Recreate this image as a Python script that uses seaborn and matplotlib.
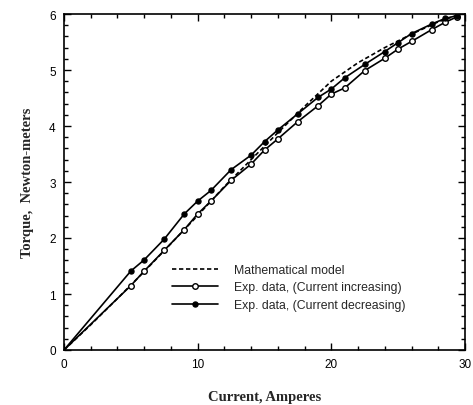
import matplotlib
matplotlib.use("Agg")
import matplotlib.pyplot as plt
from matplotlib.ticker import MultipleLocator
import seaborn as sns
import pandas as pd

# ---- data ----
model_current = [0, 2, 4, 6, 8, 10, 12, 14, 16, 18, 20, 22, 24, 26, 28, 29.7]
model_torque = [0, 0.45, 0.92, 1.40, 1.90, 2.40, 2.92, 3.40, 3.88, 4.35, 4.80, 5.13, 5.40, 5.64, 5.86, 6.0]

exp_current = [0, 5, 6, 7.5, 9, 10, 11, 12.5, 14, 15, 16, 17.5, 19, 20, 21, 22.5, 24, 25, 26, 27.5, 28.5, 29.4]
torque_increasing = [0, 1.15, 1.41, 1.78, 2.15, 2.43, 2.66, 3.03, 3.32, 3.57, 3.77, 4.08, 4.36, 4.57, 4.68,
                     4.99, 5.21, 5.375, 5.51, 5.72, 5.85, 5.95]
torque_decreasing = [0, 1.41, 1.61, 1.98, 2.43, 2.66, 2.85, 3.22, 3.48, 3.72, 3.93, 4.22, 4.51, 4.66, 4.86,
                     5.10, 5.33, 5.49, 5.65, 5.82, 5.92, 5.97]

labels = ["Mathematical model", "Exp. data, (Current increasing)", "Exp. data, (Current decreasing)"]
x_label = "Current, Amperes"
y_label = "Torque,  Newton-meters"

sns.set_style("ticks")
plt.rcParams["font.family"] = ["Liberation Sans", "DejaVu Sans"]

fig = plt.figure(figsize=(4.73, 4.06), dpi=100)
ax = fig.add_axes([64 / 473, 55 / 406, 401 / 473, 336 / 406])

df_model = pd.DataFrame({"x": model_current, "y": model_torque})
df_inc = pd.DataFrame({"x": exp_current, "y": torque_increasing})
df_dec = pd.DataFrame({"x": exp_current, "y": torque_decreasing})

sns.lineplot(data=df_model, x="x", y="y", ax=ax, color="black", lw=1.2,
             linestyle=(0, (2.6, 1.6)), sort=False, label=labels[0])
sns.lineplot(data=df_inc, x="x", y="y", ax=ax, color="black", lw=1.2, sort=False,
             marker="o", markersize=4.0, markerfacecolor="white", markeredgecolor="black",
             markeredgewidth=1.0, markevery=slice(1, None), label=labels[1])
sns.lineplot(data=df_dec, x="x", y="y", ax=ax, color="black", lw=1.2, sort=False,
             marker="o", markersize=3.6, markerfacecolor="black", markeredgecolor="black",
             markeredgewidth=1.0, markevery=slice(1, None), label=labels[2])

ax.set_xlim(0, 30)
ax.set_ylim(0, 6)
ax.xaxis.set_major_locator(MultipleLocator(10))
ax.xaxis.set_minor_locator(MultipleLocator(2))
ax.yaxis.set_major_locator(MultipleLocator(1))
ax.yaxis.set_minor_locator(MultipleLocator(0.2))
ax.tick_params(which="both", direction="in", top=True, right=True, colors="black", width=1.0)
ax.tick_params(which="major", length=5, labelsize=8.5, pad=6)
ax.tick_params(which="minor", length=3)
for s in ax.spines.values():
    s.set_visible(True)
    s.set_linewidth(1.2)
    s.set_color("black")

ax.set_xlabel(x_label, fontfamily="Liberation Serif", fontweight="bold", fontsize=10.5, labelpad=14)
ax.set_ylabel(y_label, fontfamily="Liberation Serif", fontweight="bold", fontsize=10.5, labelpad=11)

leg = ax.legend(loc="upper left", bbox_to_anchor=(0.269, 0.256), frameon=False, fontsize=8.8,
                handlelength=3.8, handletextpad=1.3, borderpad=0, borderaxespad=0, labelspacing=0.45)

fig.savefig("out.png", dpi=100)
